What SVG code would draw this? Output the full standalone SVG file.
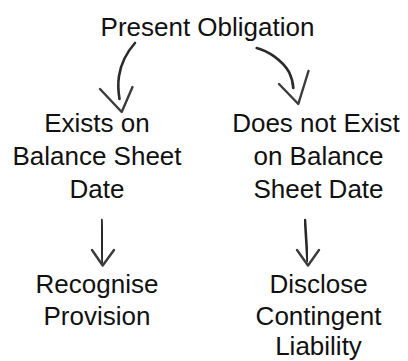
<svg xmlns="http://www.w3.org/2000/svg" width="408" height="361" viewBox="0 0 408 361">
<defs>
<style>
.t{font-family:"Liberation Sans",Arial,sans-serif;font-size:26px;fill:#111;text-anchor:middle}
.c{fill:none;stroke:#2a2a2a;stroke-linecap:round;stroke-linejoin:round;filter:url(#soft)}
.s{stroke-width:2.6}
.w{stroke-width:2.4;stroke:#3a3a3a}
</style>
<filter id="soft" x="-20%" y="-20%" width="140%" height="140%"><feGaussianBlur stdDeviation="0.5"/></filter>
</defs>
<rect width="408" height="361" fill="#fff"/>
<g id="n-present"><text class="t" x="207.5" y="36">Present Obligation</text></g>
<g id="n-exists"><text class="t" x="97" y="132">Exists on</text><text class="t" x="97" y="165">Balance Sheet</text><text class="t" x="97" y="198">Date</text></g>
<g id="n-notexist"><text class="t" x="316" y="132">Does not Exist</text><text class="t" x="318.5" y="165">on Balance</text><text class="t" x="318.5" y="198">Sheet Date</text></g>
<g id="n-recognise"><text class="t" x="97" y="293">Recognise</text><text class="t" x="97" y="325">Provision</text></g>
<g id="n-disclose"><text class="t" x="318.5" y="293">Disclose</text><text class="t" x="318.5" y="325">Contingent</text><text class="t" x="318.5" y="354.5">Liability</text></g>
<g id="connectors">
<path class="c s" d="M135,43 C127,52 121,63 119,76 C117.5,86 118.5,93 119.5,99"/>
<path class="c w" d="M100,89 L121.7,112 L132.5,87"/>
<path class="c s" d="M256.7,48 C268,51 282,60 289,72 C292,78 293,83 293.3,88"/>
<path class="c w" d="M279,84 L298.3,104 L308.5,71"/>
<path class="c s" d="M101.5,220 L102.5,262"/>
<path class="c w" d="M92,250 L102.7,265.5 L114,250"/>
<path class="c s" d="M305,220 L307.5,261"/>
<path class="c w" d="M297,250 L308,265.5 L319,250"/>
</g>
</svg>
